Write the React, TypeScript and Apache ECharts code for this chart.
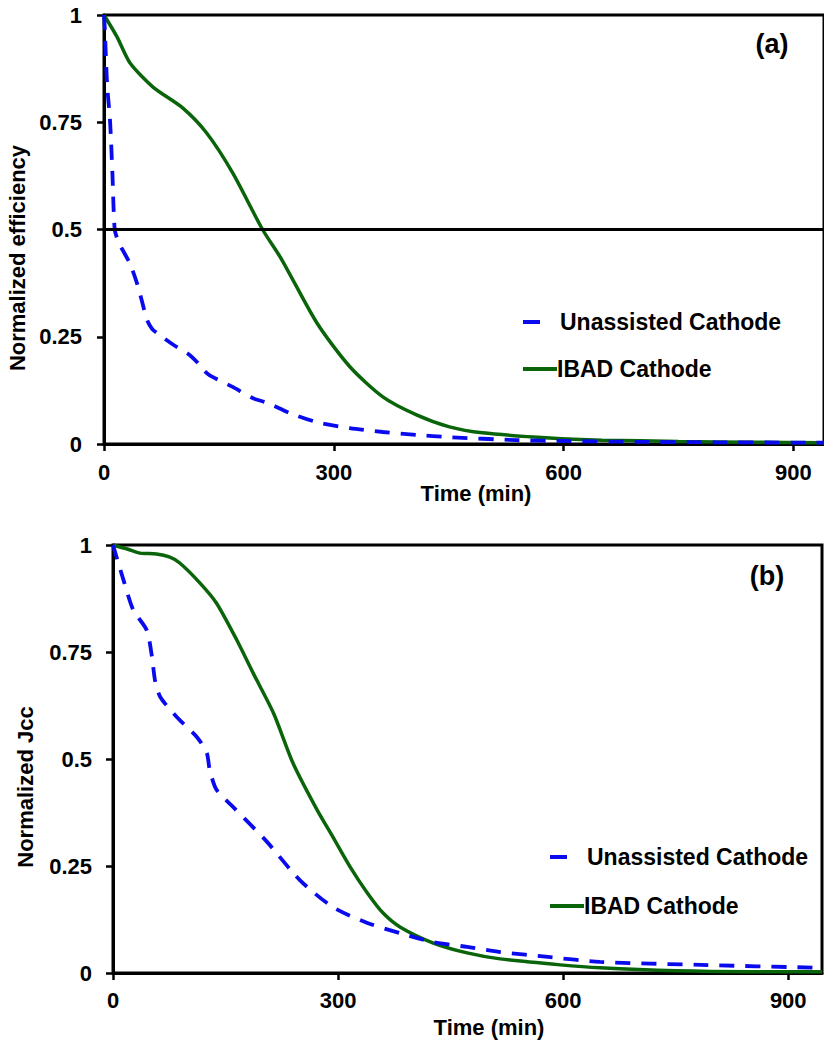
import React, { useEffect, useRef } from "react";
import * as echarts from "echarts";

// ---- Data: panel (a) normalized efficiency ----
const unassistedA: [number, number][] = [
  [0, 1.0], [1, 0.97], [4, 0.84], [8, 0.75], [11, 0.63], [14, 0.5], [19, 0.47], [25, 0.45],
  [34, 0.42], [43, 0.375], [50, 0.33], [56, 0.29], [63, 0.268], [69, 0.259], [90, 0.232],
  [110, 0.21], [122, 0.19], [130, 0.172], [138, 0.16], [168, 0.133], [194, 0.107], [213, 0.096],
  [243, 0.072], [278, 0.051], [321, 0.037], [364, 0.028], [408, 0.021], [451, 0.016],
  [538, 0.009], [600, 0.007], [700, 0.005], [800, 0.004], [940, 0.003],
];
const ibadA: [number, number][] = [
  [0, 1.0], [17, 0.949], [34, 0.888], [64, 0.832], [103, 0.783], [134, 0.725], [168, 0.632],
  [207, 0.5], [232, 0.43], [278, 0.282], [321, 0.18], [364, 0.11], [408, 0.068], [451, 0.04],
  [494, 0.026], [582, 0.014], [650, 0.009], [750, 0.006], [850, 0.004], [940, 0.003],
];

// ---- Data: panel (b) normalized Jcc ----
const unassistedB: [number, number][] = [
  [0, 1.0], [2, 0.988], [14, 0.918], [27, 0.848], [45, 0.801], [52, 0.738], [56, 0.684],
  [63, 0.645], [85, 0.598], [112, 0.551], [125, 0.514], [129, 0.474], [138, 0.428],
  [160, 0.388], [205, 0.307], [249, 0.217], [293, 0.154], [339, 0.117], [383, 0.093],
  [427, 0.072], [472, 0.061], [516, 0.049], [583, 0.037], [649, 0.026], [783, 0.019], [945, 0.012],
];
const ibadB: [number, number][] = [
  [0, 1.0], [20, 0.99], [36, 0.981], [58, 0.979], [75, 0.972], [89, 0.958], [116, 0.911],
  [138, 0.864], [165, 0.778], [187, 0.7], [214, 0.607], [240, 0.49], [272, 0.381], [293, 0.318],
  [316, 0.248], [339, 0.187], [360, 0.14], [383, 0.107], [427, 0.07], [472, 0.047], [516, 0.033],
  [596, 0.019], [649, 0.012], [750, 0.005], [850, 0.003], [945, 0.003],
];

const xTicks = [0, 300, 600, 900];
const seriesNames = ["Unassisted Cathode", "IBAD Cathode"];
const panelLabels = ["(a)", "(b)"];
const yNames = ["Normalized efficiency", "Normalized Jcc"];
const xName = "Time (min)";

const FONT = "'Liberation Sans', Arial, sans-serif";
const BLUE = "#0a0aee";
const GREEN = "#0a640a";

export default function App() {
  const ref = useRef<HTMLDivElement>(null);
  useEffect(() => {
    if (!ref.current) return;
    const chart = echarts.init(ref.current, null, { renderer: "svg" });

    const xAxisBase = (gridIndex: number, max: number, margin: number) => ({
      type: "value",
      gridIndex,
      min: 0,
      max,
      interval: 300,
      axisLine: { show: true, lineStyle: { color: "#000", width: 3 } },
      axisTick: { show: true, customValues: xTicks, length: 7, lineStyle: { color: "#000", width: 2.5 } },
      axisLabel: {
        customValues: xTicks,
        margin,
        color: "#000",
        fontSize: 22,
        fontWeight: "bold",
        fontFamily: FONT,
      },
      splitLine: { show: false },
    });
    const yAxisBase = (gridIndex: number, margin: number) => ({
      type: "value",
      gridIndex,
      min: 0,
      max: 1,
      interval: 0.25,
      axisLine: { show: true, lineStyle: { color: "#000", width: 3 } },
      axisTick: { show: true, length: 7, lineStyle: { color: "#000", width: 2.5 } },
      axisLabel: {
        margin,
        color: "#000",
        fontSize: 22,
        fontWeight: "bold",
        fontFamily: FONT,
      },
      splitLine: { show: false },
    });

    const lineSeries = (name: string, data: [number, number][], idx: number, dashed: boolean, extra: any = {}) => ({
      type: "line",
      name,
      data,
      xAxisIndex: idx,
      yAxisIndex: idx,
      showSymbol: false,
      smooth: 0.25,
      lineStyle: dashed
        ? { color: BLUE, width: 3.8, type: [15, 11] }
        : { color: GREEN, width: 3.5 },
      z: dashed ? 3 : 2,
      ...extra,
    });

    const textStyle = (size: number) => ({
      fill: "#000",
      font: `bold ${size}px ${FONT}`,
    });

    const legendItems = (
      blueX: number, blueLen: number, greenX: number, greenLen: number,
      y1: number, y2: number, t1: number, t2: number,
    ) => [
      { type: "line", shape: { x1: blueX, y1, x2: blueX + blueLen, y2: y1 }, style: { stroke: BLUE, lineWidth: 4 } },
      { type: "text", x: t1, y: y1, style: { ...textStyle(23), text: seriesNames[0], textAlign: "left", textVerticalAlign: "middle" } },
      { type: "line", shape: { x1: greenX, y1: y2, x2: greenX + greenLen, y2 }, style: { stroke: GREEN, lineWidth: 4 } },
      { type: "text", x: t2, y: y2, style: { ...textStyle(23), text: seriesNames[1], textAlign: "left", textVerticalAlign: "middle" } },
    ];

    chart.setOption({
      animation: false,
      backgroundColor: "#fff",
      grid: [
        { left: 104, top: 15, width: 721, height: 429, show: true, borderColor: "#000", borderWidth: 3, containLabel: false },
        { left: 113, top: 545, width: 709, height: 428, show: true, borderColor: "#000", borderWidth: 3, containLabel: false },
      ],
      xAxis: [xAxisBase(0, 940, 17), xAxisBase(1, 945, 16)],
      yAxis: [yAxisBase(0, 22), yAxisBase(1, 21)],
      series: [
        lineSeries(seriesNames[0], unassistedA, 0, true, {
          markLine: {
            silent: true,
            symbol: "none",
            label: { show: false },
            lineStyle: { color: "#000", width: 3, type: "solid" },
            data: [{ yAxis: 0.5 }],
          },
        }),
        lineSeries(seriesNames[1], ibadA, 0, false),
        lineSeries(seriesNames[0], unassistedB, 1, true),
        lineSeries(seriesNames[1], ibadB, 1, false),
      ],
      graphic: [
        { type: "text", x: 772, y: 44, style: { ...textStyle(27), text: panelLabels[0], textAlign: "center", textVerticalAlign: "middle" } },
        { type: "text", x: 767, y: 576, style: { ...textStyle(27), text: panelLabels[1], textAlign: "center", textVerticalAlign: "middle" } },
        { type: "text", x: 17, y: 258, rotation: Math.PI / 2, style: { ...textStyle(22), text: yNames[0], textAlign: "center", textVerticalAlign: "middle" } },
        { type: "text", x: 25, y: 787, rotation: Math.PI / 2, style: { ...textStyle(22), text: yNames[1], textAlign: "center", textVerticalAlign: "middle" } },
        { type: "text", x: 476, y: 493, style: { ...textStyle(22), text: xName, textAlign: "center", textVerticalAlign: "middle" } },
        { type: "text", x: 489, y: 1027, style: { ...textStyle(22), text: xName, textAlign: "center", textVerticalAlign: "middle" } },
        ...legendItems(523, 17, 523, 34, 322, 369, 560, 557),
        ...legendItems(550, 17, 550, 34, 857, 906, 587, 584),
      ],
    });
    return () => chart.dispose();
  }, []);
  return (
    <div
      ref={ref}
      style={{ position: "absolute", left: 0, top: 0, width: 824, height: 1040 }}
    />
  );
}
